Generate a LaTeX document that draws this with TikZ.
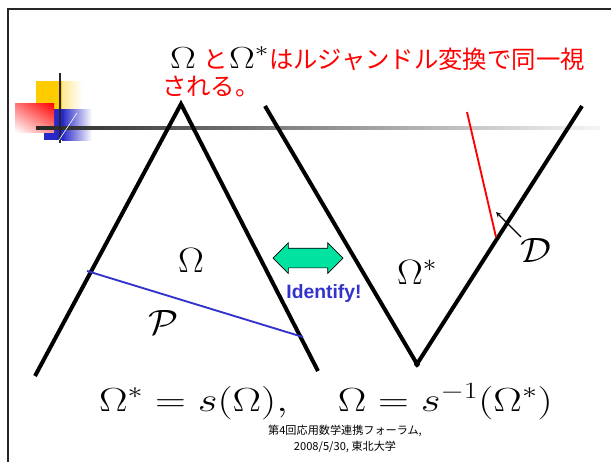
\RequirePackage{fix-cm}
\documentclass[tikz,border=0pt]{standalone}
\usepackage{amsmath, amssymb}
\usepackage{fontspec}
\newfontfamily\jp{Noto Sans CJK JP}
\usetikzlibrary{calc, positioning, shapes.arrows, shadings}
\definecolor{idgreen}{RGB}{0,226,160}
\definecolor{idblue}{RGB}{50,50,205}
\definecolor{logoblue}{RGB}{40,40,200}
\definecolor{logoyellow}{RGB}{255,204,0}
% wide black Omega for the title line
\newcommand{\titleomega}[1]{{\color{black}\scalebox{1.27}[1]{\fontsize{26}{26}\selectfont$\Omega#1$}}}

\begin{document}
\begin{tikzpicture}[x=0.03cm, y=-0.03cm, >=stealth,
  leg/.style={line width=0.12cm, black},
  biglabel/.style={font=\fontsize{30}{34}\selectfont, inner sep=0pt},
  jptitle/.style={anchor=base west, inner sep=0pt, text=red, font=\jp\fontsize{20.8}{25}\selectfont}]
  \useasboundingbox (0,0) rectangle (611,462);
  % frame
  \draw[line width=2pt, black!85] (611,9) -- (8,9) -- (8,462);
  % logo
  \shade[left color=logoyellow, right color=white] (36,81) rectangle (82,109);
  \fill[logoyellow] (36,81) rectangle (62,109);
  \shade[left color=logoblue, right color=white] (62,109) rectangle (92,140);
  \fill[logoblue] (44,109) rectangle (64,140);
  \shade[upper right=red, upper left=red!55!white, lower right=red!45!white, lower left=white]
    (15,103) rectangle (54,132);
  \shade[left color=black!85, right color=black!4] (36,126.5) rectangle (600,129.5);
  \draw[line width=1.3pt, black!85] (60,73) -- (60,143);
  \draw[white, line width=0.5pt] (59,140) -- (77,113);
  % title
  \node[jptitle] (title) at (170,68)
    {\titleomega{}\hspace{6.4pt}と\hspace{1pt}\titleomega{^*}はルジャンドル変換で同一視};
  \node[jptitle] (title2) at (162,95) {される。};
  % left wedge
  \coordinate (Lfoot) at (35,376);
  \coordinate (Apex) at (181,104);
  \coordinate (Rfoot) at (318,371);
  \draw[leg] (Lfoot) -- (Apex) -- (Rfoot);
  % right wedge
  \coordinate (Vleft) at (265,106);
  \coordinate (Vbot) at (417,364);
  \coordinate (Vright) at (582,106);
  \draw[leg] (Vleft) -- (Vbot) -- (Vright);
  \fill (Vbot) circle (3);
  % curves P and D
  \coordinate (P1) at (87,271);
  \coordinate (P2) at (303,337);
  \draw[idblue, line width=1.6pt] (P1) -- (P2);
  \coordinate (D1) at (467,112);
  \coordinate (D2) at (496,237);
  \draw[red, line width=1.6pt] (D1) -- (D2);
  \coordinate (Dtail) at (521,237);
  \coordinate (Dhead) at (496,212);
  \draw[->, line width=1pt] (Dtail) -- (Dhead);
  % labels
  \node[biglabel, anchor=base] (omega) at (191,272) {\scalebox{1.1}[1]{$\Omega$}};
  \node[biglabel, anchor=base] (omegastar) at (417,284) {\scalebox{1.1}[1]{$\Omega^*$}};
  \node[biglabel] (calP) at (164,322) {\scalebox{1.1}[1]{$\mathcal{P}$}};
  \node[biglabel] (calD) at (536,250) {\scalebox{1.1}[1]{$\mathcal{D}$}};
  % identify arrow
  \node[double arrow, draw=black, fill=idgreen, line width=0.6pt,
        minimum height=70*0.03cm, inner xsep=0pt, inner ysep=9.5*0.03cm,
        double arrow head extend=5.5*0.03cm] (ident) at (308,258) {};
  \node[text=idblue, font=\fontspec{Liberation Sans Bold}\fontsize{16.5}{18}\selectfont,
        inner sep=0pt] (identtext) at (324,293) {Identify!};
  % formula
  \node[font=\fontsize{28.5}{34}\selectfont, inner sep=0pt, anchor=base] (formula) at (326,411)
    {\scalebox{1.28}[1]{$\Omega^* = s(\Omega), \quad \Omega = s^{-1}(\Omega^*)$}};
  % footer
  \node[align=center, inner sep=0pt, font=\jp\fontsize{9.5}{14}\selectfont] (footer) at (345,439)
    {第4回応用数学連携フォーラム,\\2008/5/30, 東北大学};
\end{tikzpicture}
\end{document}
